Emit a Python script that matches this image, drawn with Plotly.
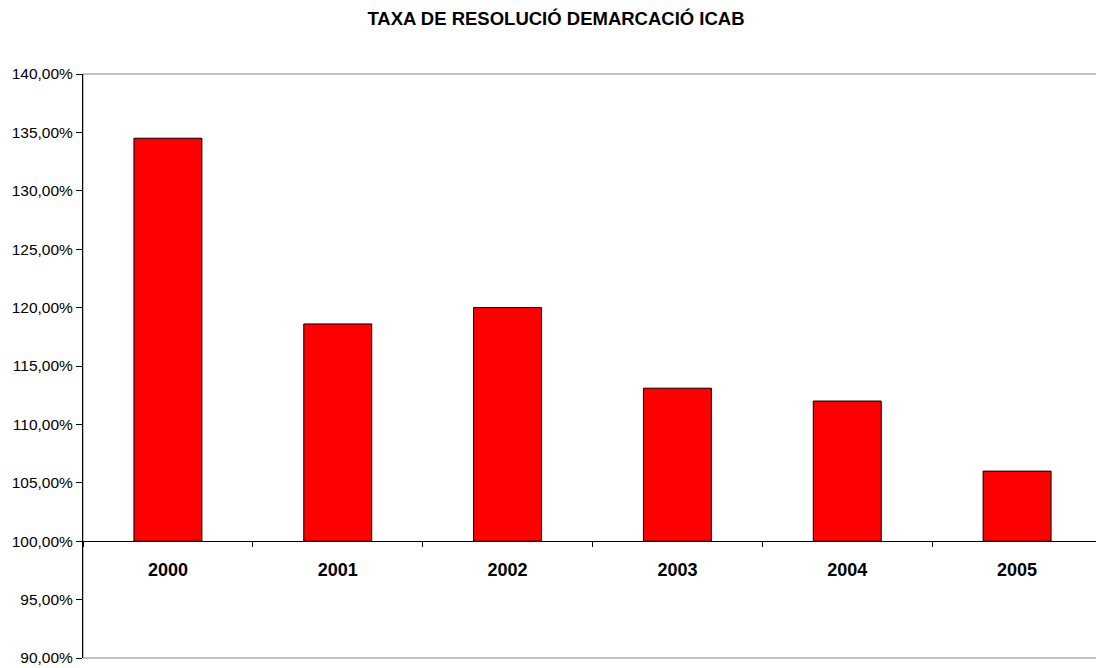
import plotly.graph_objects as go

years = ["2000", "2001", "2002", "2003", "2004", "2005"]
rates = [134.5, 118.6, 120.0, 113.1, 112.0, 106.0]
baseline = 100.0
y_range = [90, 140]
y_ticks = [90, 95, 100, 105, 110, 115, 120, 125, 130, 135, 140]
y_ticktext = [f"{v:.2f}".replace(".", ",") + "%" for v in y_ticks]

FONT = "Arial, Liberation Sans, sans-serif"

# The page adds an 8px body margin, so the figure is sized to fit the window.
W, H = 1096, 660

fig = go.Figure()
fig.add_trace(go.Bar(
    x=years,
    y=[r - baseline for r in rates],
    base=baseline,
    marker=dict(color="#FF0000", line=dict(color="#000000", width=1)),
    hovertemplate="%{x}: %{customdata:.2f}%<extra></extra>",
    customdata=rates,
))

pos100 = (baseline - y_range[0]) / (y_range[1] - y_range[0])

fig.update_layout(
    width=W, height=H,
    margin=dict(l=75, r=2, t=66, b=7),
    paper_bgcolor="white", plot_bgcolor="white",
    bargap=0.6,
    showlegend=False,
    font=dict(family=FONT, color="black"),
    title=dict(
        text="<b>TAXA DE RESOLUCIÓ DEMARCACIÓ ICAB</b>",
        font=dict(family=FONT, size=18.5, color="black"),
        x=0.5, xref="container", xanchor="center",
        y=1 - 10.5 / H, yref="container", yanchor="middle",
    ),
    xaxis=dict(
        type="category",
        anchor="free", position=pos100,
        showline=True, linecolor="black", linewidth=1,
        ticks="outside", tickson="boundaries", ticklen=5, tickcolor="black",
        tickfont=dict(family=FONT, size=18, color="black", weight="bold"),
        ticklabelstandoff=12,
        showgrid=False, zeroline=False,
    ),
    yaxis=dict(
        range=y_range,
        tickvals=y_ticks,
        ticktext=y_ticktext,
        ticklabeloverflow="allow",
        showline=True, linecolor="black", linewidth=1,
        ticks="outside", ticklen=6, tickcolor="black",
        tickfont=dict(family=FONT, size=15.5, color="black"),
        showgrid=False, zeroline=False,
    ),
    shapes=[dict(
        type="rect", xref="paper", yref="paper", x0=0, x1=1, y0=0, y1=1,
        line=dict(color="#808080", width=1), layer="below",
    )],
)

fig.write_html("out.html")
